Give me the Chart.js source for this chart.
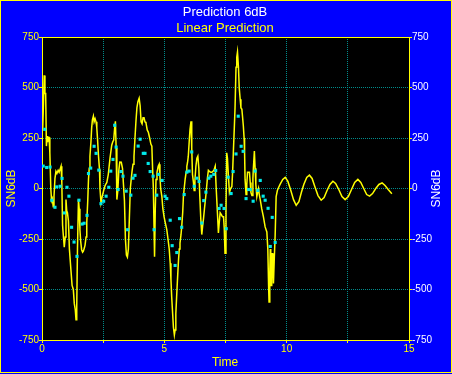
<!DOCTYPE html>
<html>
<head>
<meta charset="utf-8">
<script src="https://cdn.jsdelivr.net/npm/chart.js@4.4.0/dist/chart.umd.min.js"></script>
<style>
html, body { margin: 0; padding: 0; background: #0000ff; }
canvas { display: block; }
</style>
</head>
<body>
<canvas id="myChart" width="452" height="374"></canvas>
<script>
// Measured signal (yellow line)
const lineT = [0.00,0.03,0.06,0.09,0.12,0.15,0.18,0.21,0.23,0.26,0.29,0.32,0.36,0.39,0.42,0.46,0.49,0.53,0.57,0.61,
  0.66,0.70,0.74,0.78,0.81,0.84,0.87,0.91,0.95,0.98,1.01,1.04,1.08,1.12,1.18,1.23,1.28,1.32,1.36,1.39,
  1.42,1.45,1.49,1.52,1.55,1.58,1.62,1.66,1.69,1.73,1.76,1.80,1.83,1.87,1.90,1.93,1.96,2.00,2.03,2.06,
  2.10,2.13,2.17,2.21,2.24,2.27,2.31,2.35,2.37,2.41,2.45,2.48,2.52,2.58,2.65,2.71,2.78,2.85,2.89,2.93,
  2.97,3.00,3.03,3.06,3.10,3.14,3.18,3.24,3.29,3.33,3.37,3.41,3.45,3.49,3.53,3.57,3.61,3.65,3.68,3.72,
  3.76,3.80,3.84,3.88,3.92,3.97,4.01,4.05,4.09,4.13,4.17,4.21,4.25,4.30,4.35,4.40,4.45,4.49,4.52,4.55,
  4.58,4.60,4.63,4.66,4.70,4.75,4.79,4.82,4.85,4.90,4.94,4.99,5.04,5.10,5.15,5.20,5.24,5.27,5.30,5.34,
  5.37,5.41,5.44,5.47,5.51,5.55,5.58,5.61,5.64,5.68,5.71,5.75,5.78,5.82,5.85,5.89,5.92,5.95,5.98,6.02,
  6.05,6.09,6.12,6.15,6.19,6.22,6.25,6.29,6.33,6.37,6.41,6.45,6.49,6.53,6.57,6.60,6.64,6.71,6.76,6.80,
  6.84,6.90,6.94,6.99,7.04,7.08,7.12,7.17,7.21,7.25,7.28,7.33,7.38,7.42,7.45,7.48,7.52,7.55,7.58,7.62,
  7.66,7.71,7.76,7.79,7.82,7.86,7.89,7.93,7.96,7.99,8.03,8.06,8.10,8.13,8.17,8.20,8.23,8.26,8.28,8.30,
  8.34,8.37,8.40,8.44,8.48,8.51,8.54,8.58,8.60,8.62,8.64,8.68,8.71,8.74,8.78,8.81,8.85,8.88,8.92,8.98,
  9.05,9.12,9.19,9.23,9.26,9.28,9.31,9.33,9.35,9.37,9.39,9.41,9.44,9.46,9.49,9.53,9.57,9.62,9.67,9.73,
  9.84,9.94,10.05,10.17,10.28,10.39,10.50,10.60,10.70,10.82,10.93,11.04,11.15,11.28,11.41,11.53,11.65,11.77,11.89,12.00,
  12.13,12.26,12.39,12.52,12.65,12.78,12.91,13.03,13.15,13.27,13.39,13.51,13.64,13.77,13.90,14.02,14.15,14.30];
const lineV = [460,300,420,560,470,470,210,260,230,253,253,179,0,-60,-50,-90,-40,50,85,75,
  90,80,95,110,30,-180,-230,-290,-240,-55,-110,-120,-160,-300,-400,-480,-500,-570,-600,-650,
  -580,-300,-55,-100,-204,-260,-303,-315,-310,-295,-280,-240,-170,-60,45,100,160,230,300,340,
  358,330,345,330,300,244,160,94,0,-70,-45,-30,-10,15,30,70,150,214,230,240,
  300,333,200,-55,-10,90,131,130,100,20,-60,-250,-330,-340,-300,-150,0,50,85,120,
  160,250,333,400,430,447,410,330,320,350,350,330,325,290,277,250,220,210,100,5,
  -200,-338,-100,45,80,110,120,60,0,-40,-100,-140,-170,-204,-250,-300,-370,-450,-535,-620,
  -685,-725,-700,-620,-517,-420,-353,-300,-270,-230,-190,-120,-40,10,45,80,110,130,160,240,
  293,333,200,70,30,-10,40,110,150,160,100,-40,-150,-228,-180,-150,-100,-20,50,90,
  85,80,80,85,95,110,0,-120,-220,-160,-120,-130,-140,-140,-200,-320,-100,177,150,60,
  -20,0,10,80,177,300,400,600,650,676,600,500,442,400,392,350,308,250,177,45,
  -30,20,80,80,80,30,-20,-35,-35,50,100,185,100,20,-40,-20,0,-30,-55,-100,
  -140,-190,-215,-300,-477,-562,-420,-300,-400,-480,-400,-320,-400,-470,-360,-230,-40,-10,5,20,
  45,55,35,-10,-55,-83,-65,-20,20,55,66,50,10,-35,-58,-45,-10,20,36,25,
  -5,-40,-55,-40,-5,30,45,30,0,-30,-38,-25,0,20,28,15,-5,-26];

// Predicted samples (cyan squares)
const dotT = [0.05,0.11,0.19,0.33,0.40,0.53,0.60,0.74,0.82,0.91,1.02,1.10,1.21,1.31,1.43,1.51,1.64,1.72,1.84,1.90,
  1.99,2.13,2.21,2.32,2.41,2.52,2.62,2.73,2.81,2.90,2.97,3.03,3.11,3.23,3.31,3.44,3.50,3.63,3.72,3.80,
  3.93,4.01,4.14,4.21,4.34,4.42,4.54,4.58,4.69,4.76,4.91,5.03,5.10,5.24,5.32,5.44,5.51,5.62,5.71,5.81,
  5.92,6.01,6.12,6.22,6.33,6.42,6.53,6.61,6.70,6.82,6.90,7.02,7.10,7.24,7.32,7.44,7.53,7.61,7.73,7.81,
  7.93,8.02,8.14,8.22,8.34,8.44,8.51,8.63,8.71,8.82,8.92,9.04,9.12,9.24,9.33,9.41,9.53];
const dotV = [111,293,104,106,-58,-93,8,11,50,-121,6,-38,-192,-265,-336,-58,-176,-172,-133,74,
  101,209,174,91,-75,-63,-38,6,86,144,313,205,-5,84,61,-13,-204,-33,51,65,
  210,244,174,174,124,84,61,-204,-33,70,40,-38,-50,-157,-283,-381,-317,-149,-192,-30,
  81,86,181,11,51,35,-171,-60,-18,51,61,70,89,-99,-83,-99,-199,56,-25,84,
  171,358,209,184,-50,-5,-5,-63,86,-10,40,-38,-58,-98,-287,-143,-267];

const yMin = -750, yMax = 750, yStep = 250;
const xMin = 0, xMax = 15, xStep = 2.5;

const FONT = '"Liberation Sans", Arial, sans-serif';

//Background, frame and free text
const framePlugin = {
    id: 'frame',
    beforeDraw(chart) {
        const ctx = chart.ctx, a = chart.chartArea;
        ctx.save();
        ctx.fillStyle = '#0000ff';
        ctx.fillRect(0, 0, chart.width, chart.height);
        ctx.fillStyle = '#000000';
        ctx.fillRect(a.left, a.top, a.right - a.left, a.bottom - a.top);
        ctx.strokeStyle = '#ffff00';
        ctx.lineWidth = 1;
        ctx.strokeRect(0.5, 0.5, chart.width - 1, chart.height - 2);
        ctx.restore();
    },
    afterDraw(chart) {
        const ctx = chart.ctx, a = chart.chartArea;
        ctx.save();
        ctx.strokeStyle = '#ffff00';
        ctx.lineWidth = 1;
        ctx.beginPath();
        ctx.moveTo(a.left, Math.round(a.top) + 0.5);
        ctx.lineTo(a.right, Math.round(a.top) + 0.5);
        ctx.stroke();

        ctx.textAlign = 'center';
        ctx.textBaseline = 'middle';
        ctx.font = '13px ' + FONT;
        ctx.fillStyle = '#ffffff';
        ctx.fillText('Prediction 6dB', 225, 12);
        ctx.fillStyle = '#ffff00';
        ctx.fillText('Linear Prediction', 225, 28);
        ctx.font = '12px ' + FONT;
        ctx.fillText('Time', 225, 363);

        const midY = (a.top + a.bottom) / 2;
        ctx.save();
        ctx.translate(12, midY);
        ctx.rotate(-Math.PI / 2);
        ctx.fillStyle = '#ffff00';
        ctx.fillText('SN6dB', 0, 0);
        ctx.restore();
        ctx.save();
        ctx.translate(437, midY);
        ctx.rotate(-Math.PI / 2);
        ctx.fillStyle = '#ffffff';
        ctx.fillText('SN6dB', 0, 0);
        ctx.restore();
        ctx.restore();
    }
};

const gridStyle = { color: '#008c8c', tickColor: '#ffff00', tickLength: 3 };

var ctx = document.getElementById('myChart');
var myChart = new Chart(ctx, {
    type: 'scatter',
    data: {
        datasets: [
            {
                label: 'Prediction',
                data: dotT.map((t, i) => ({ x: t, y: dotV[i] })),
                pointStyle: 'rect',
                pointRadius: 2.2,
                pointBorderWidth: 0,
                backgroundColor: '#00e8e8',
                borderColor: '#00e8e8',
                showLine: false
            },
            {
                label: 'Signal',
                data: lineT.map((t, i) => ({ x: t, y: lineV[i] })),
                showLine: true,
                borderColor: '#ffff00',
                borderWidth: 1.5,
                pointRadius: 0,
                tension: 0
            }
        ]
    },
    options: {
        responsive: false,
        animation: false,
        devicePixelRatio: 1,
        layout: { padding: { top: 37, left: 0, right: 0, bottom: 0 } },
        plugins: { legend: { display: false }, tooltip: { enabled: false } },
        scales: {
            x: {
                type: 'linear', min: xMin, max: xMax,
                afterFit(s) { s.height = 34; },
                grid: gridStyle,
                border: { color: '#ffff00', width: 1, dash: [1, 1] },
                ticks: {
                    stepSize: xStep, padding: 0, maxRotation: 0,
                    color: '#ffff00', font: { family: FONT, size: 10 },
                    callback: v => (v % 5 === 0 ? String(v) : '')
                }
            },
            y: {
                position: 'left', min: yMin, max: yMax,
                afterFit(s) { s.width = 42; },
                grid: gridStyle,
                border: { color: '#ffff00', width: 1, dash: [1, 1] },
                ticks: { stepSize: yStep, padding: 0, color: '#ffff00', font: { family: FONT, size: 10 } }
            },
            y2: {
                position: 'right', min: yMin, max: yMax,
                afterFit(s) { s.width = 43; },
                grid: { drawOnChartArea: false, tickColor: '#ffff00', tickLength: 3 },
                border: { color: '#ffff00', width: 1 },
                ticks: { stepSize: yStep, padding: 0, color: '#ffffff', font: { family: FONT, size: 10 } }
            }
        }
    },
    plugins: [framePlugin]
});
</script>
</body>
</html>
